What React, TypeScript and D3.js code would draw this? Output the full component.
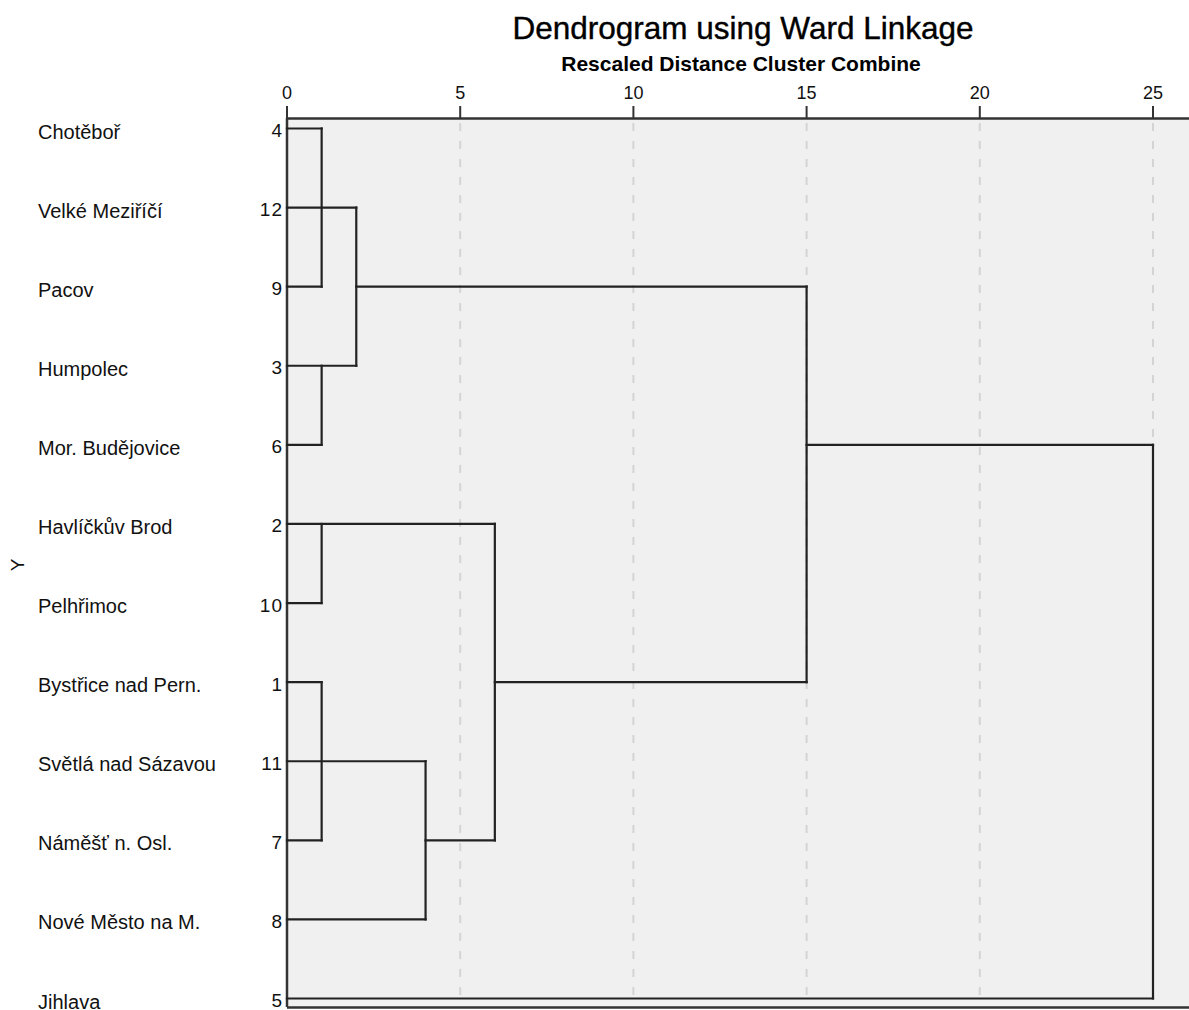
import React from "react";
import * as d3 from "d3";

const leafIds = ["4", "12", "9", "3", "6", "2", "10", "1", "11", "7", "8", "5"];
const leafNames = [
  "Chotěboř",
  "Velké Meziříčí",
  "Pacov",
  "Humpolec",
  "Mor. Budějovice",
  "Havlíčkův Brod",
  "Pelhřimoc",
  "Bystřice nad Pern.",
  "Světlá nad Sázavou",
  "Náměšť n. Osl.",
  "Nové Město na M.",
  "Jihlava",
];
const xTicks = [0, 5, 10, 15, 20, 25];

// horizontal links: [row index, from distance, to distance]
const hLinks: [number, number, number][] = [
  [0, 0, 1], [1, 0, 2], [2, 0, 1], [2, 2, 15], [3, 0, 2], [4, 0, 1], [4, 15, 25],
  [5, 0, 6], [6, 0, 1], [7, 0, 1], [7, 6, 15], [8, 0, 4], [9, 0, 1], [9, 4, 6],
  [10, 0, 4], [11, 0, 25],
];
// vertical links: [distance, from row index, to row index]
const vLinks: [number, number, number][] = [
  [1, 0, 2], [2, 1, 3], [1, 3, 4], [15, 2, 7], [1, 5, 6], [6, 5, 9], [1, 7, 9],
  [4, 8, 10], [25, 4, 11],
];

const W = 1189;
const H = 1010;
const FONT = "'Liberation Sans', Arial, sans-serif";

export default function App() {
  const x = d3.scaleLinear().domain([0, 25]).range([287, 1153]);
  const y = d3.scalePoint<string>().domain(leafIds).range([128.5, 998.5]);
  const ry = (i: number) => y(leafIds[i]) as number;
  const plotTop = 119;
  const plotBottom = 1007;
  const plotLeft = x(0);
  const lineColor = "#222";

  return (
    <svg
      width={W}
      height={H}
      style={{ position: "absolute", left: 0, top: 0, background: "#fff" }}
      fontFamily={FONT}
    >
      <text x={743} y={39} textAnchor="middle" fontSize={31.5} fill="#000" stroke="#000" strokeWidth={0.4}>
        Dendrogram using Ward Linkage
      </text>
      <text x={741} y={71} textAnchor="middle" fontSize={21} fontWeight="bold" fill="#000">
        Rescaled Distance Cluster Combine
      </text>

      {/* plot background */}
      <rect x={plotLeft} y={plotTop} width={W - plotLeft} height={plotBottom - plotTop} fill="#f0f0f0" />

      {/* grid lines */}
      {xTicks.filter((t) => t > 0).map((t) => (
        <line
          key={"g" + t}
          x1={x(t)}
          x2={x(t)}
          y1={plotTop + 4}
          y2={plotBottom - 2}
          stroke="#d4d4d4"
          strokeWidth={2}
          strokeDasharray="8,10"
        />
      ))}

      {/* axis */}
      <line x1={plotLeft} x2={W} y1={plotTop - 0.5} y2={plotTop - 0.5} stroke="#333" strokeWidth={2.5} />
      {xTicks.map((t) => (
        <g key={"t" + t}>
          <line x1={x(t)} x2={x(t)} y1={106} y2={plotTop} stroke="#333" strokeWidth={2} />
          <text x={x(t)} y={99} textAnchor="middle" fontSize={18} fill="#111">
            {t}
          </text>
        </g>
      ))}
      <line x1={plotLeft} x2={plotLeft} y1={plotTop - 1} y2={plotBottom} stroke="#333" strokeWidth={2.5} />
      <line x1={plotLeft} x2={W} y1={plotBottom + 0.5} y2={plotBottom + 0.5} stroke="#333" strokeWidth={2.5} />

      {/* links */}
      {hLinks.map(([r, a, b], i) => (
        <line
          key={"h" + i}
          x1={x(a)}
          x2={x(b)}
          y1={ry(r)}
          y2={ry(r)}
          stroke={lineColor}
          strokeWidth={2.2}
          strokeLinecap="square"
        />
      ))}
      {vLinks.map(([d, r1, r2], i) => (
        <line
          key={"v" + i}
          x1={x(d)}
          x2={x(d)}
          y1={ry(r1)}
          y2={ry(r2)}
          stroke={lineColor}
          strokeWidth={2.2}
          strokeLinecap="square"
        />
      ))}

      {/* row labels */}
      {leafIds.map((id, i) => (
        <g key={"l" + id}>
          <text x={283} y={ry(i) + 8.5} textAnchor="end" fontSize={19} letterSpacing={1} fill="#111">
            {id}
          </text>
          <text x={38} y={ry(i) + 10} fontSize={20} fill="#111">
            {leafNames[i]}
          </text>
        </g>
      ))}

      <text
        transform={`translate(24, 565) rotate(-90)`}
        textAnchor="middle"
        fontSize={19}
        fill="#111"
      >
        Y
      </text>
    </svg>
  );
}
